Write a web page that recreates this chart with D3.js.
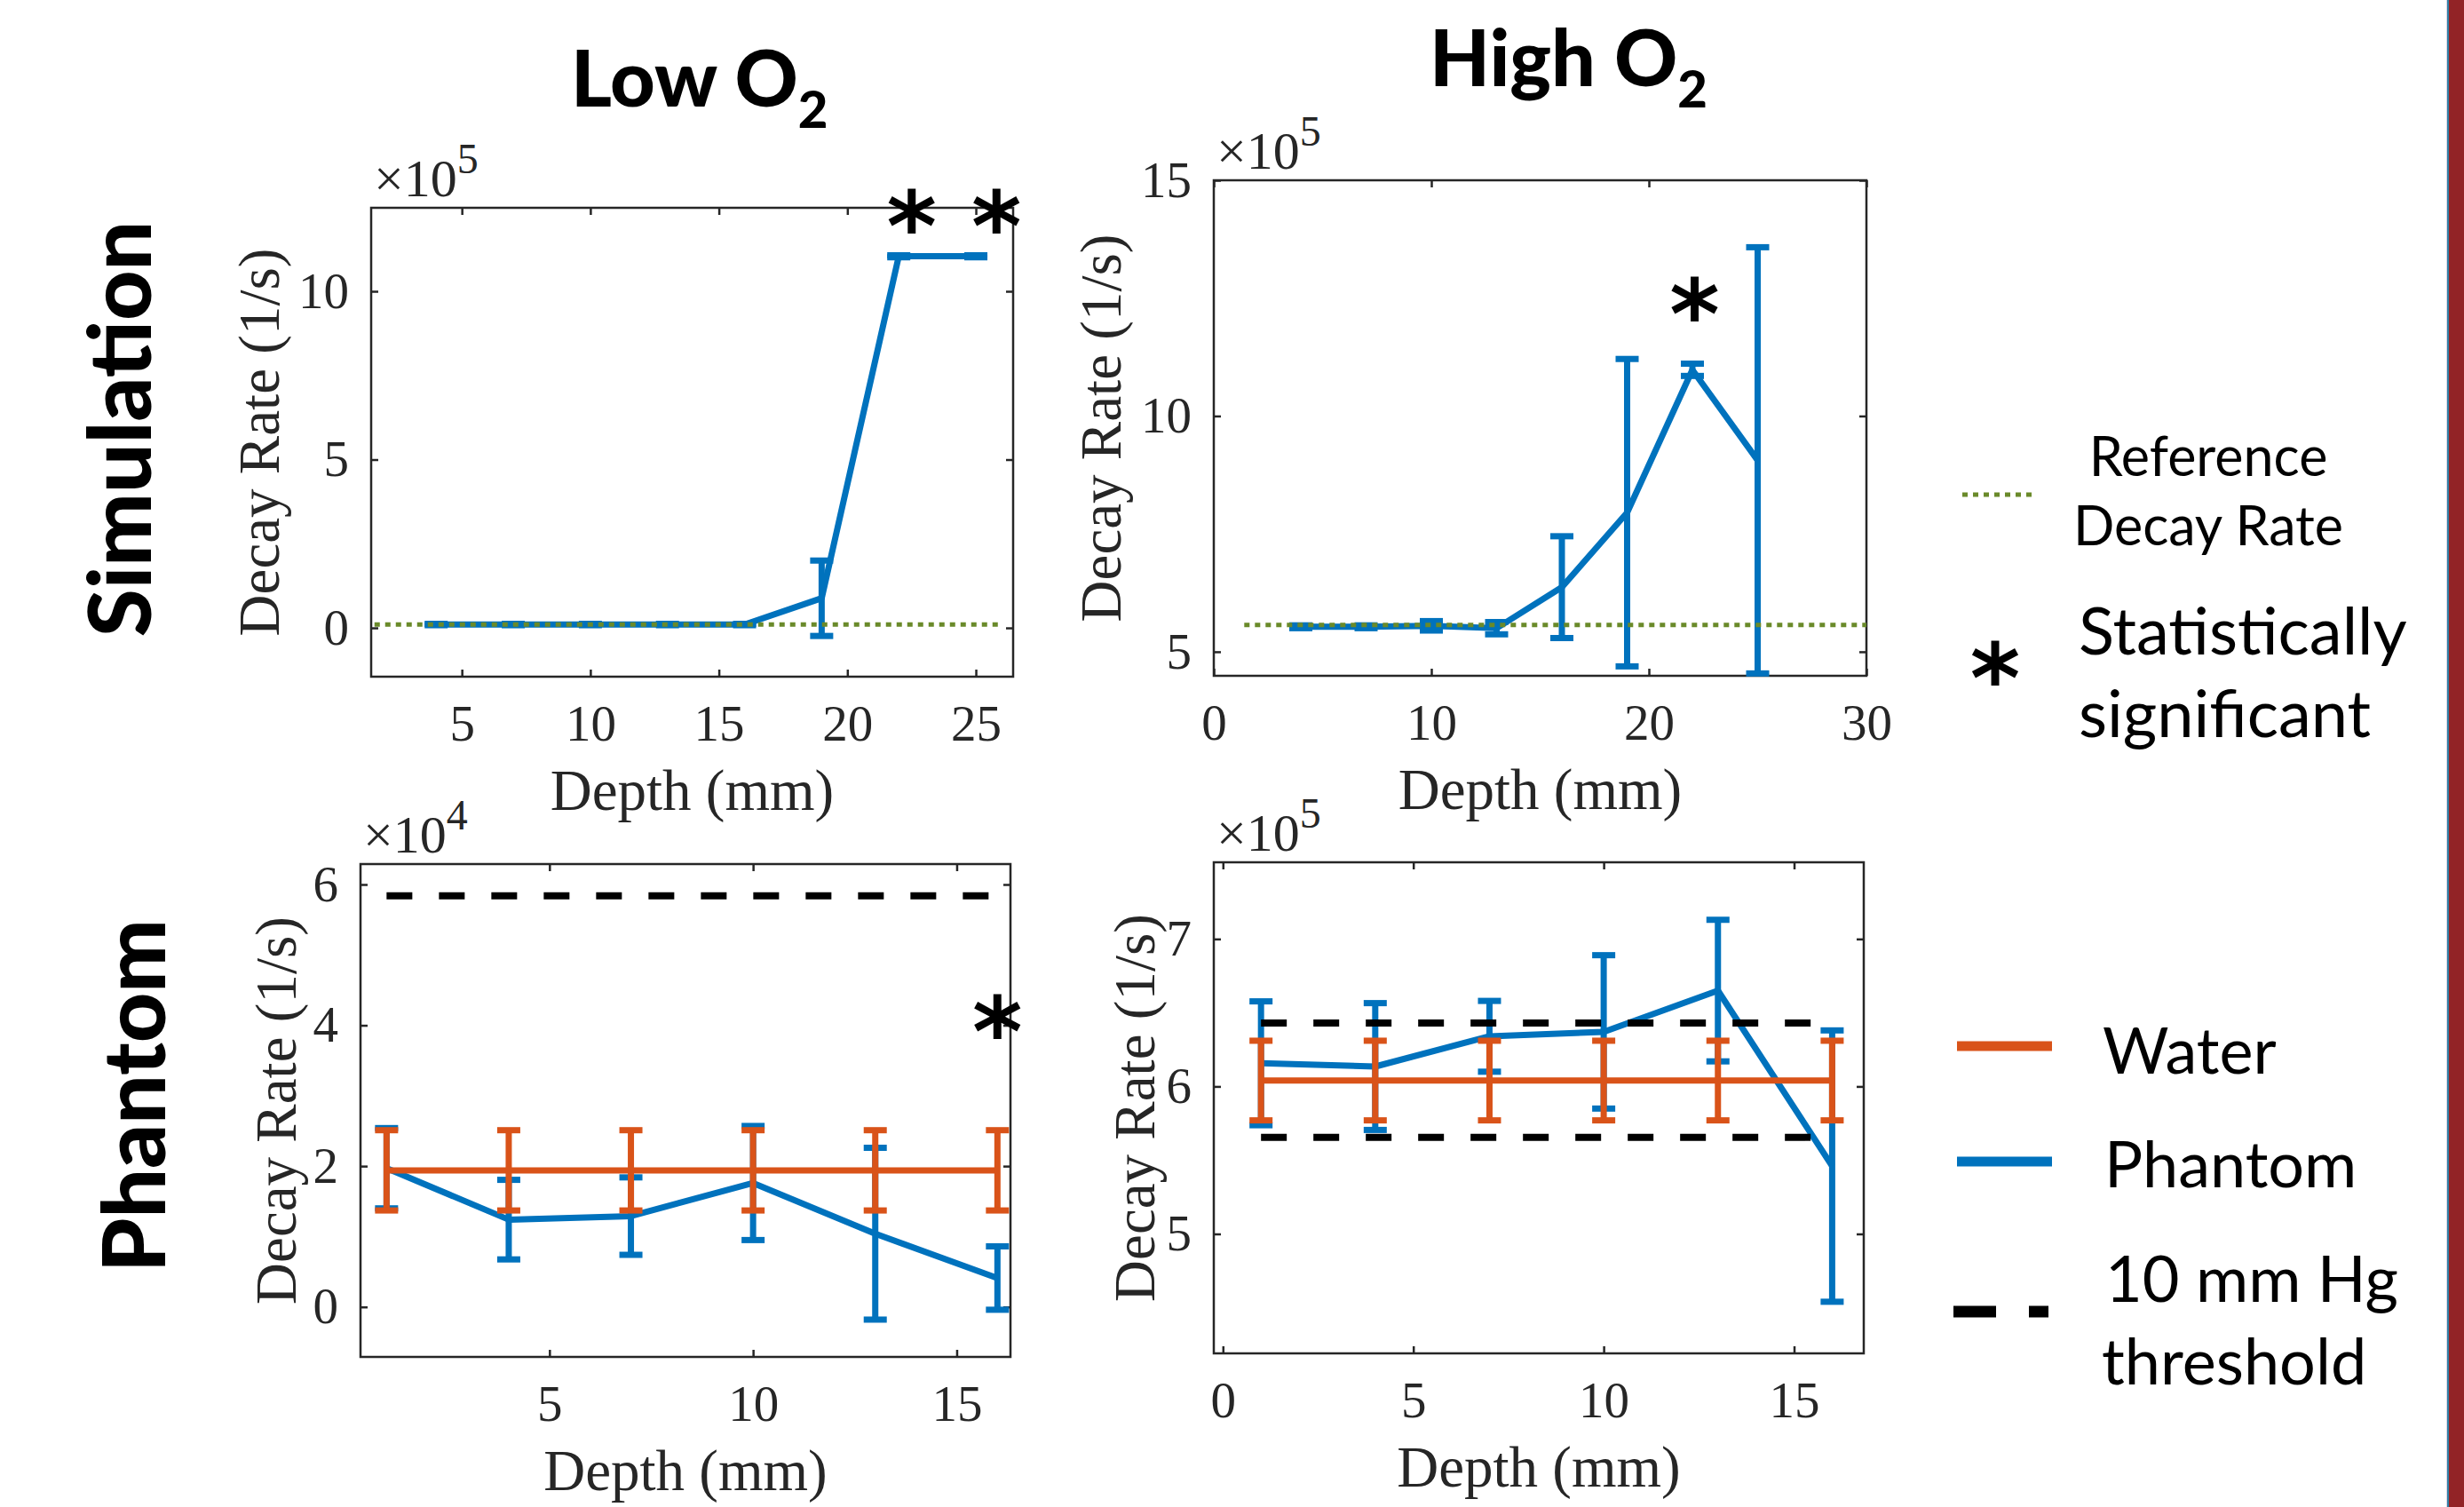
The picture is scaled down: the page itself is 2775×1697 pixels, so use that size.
<!DOCTYPE html>
<html>
<head>
<meta charset="utf-8">
<script src="https://cdn.jsdelivr.net/npm/d3@7"></script>
<style>
  body { margin: 0; background: #fff; }
  svg { display: block; }
</style>
</head>
<body>
<div id="app"></div>
<script>
"use strict";

// depths (mm)
const simDepth = [4, 7, 10, 13, 16, 19, 22, 25];
const phDepth = [1, 4, 7, 10, 13, 16];

// simulation, low O2  (x1e5 1/s)
const simLowRate = [0.1, 0.1, 0.1, 0.1, 0.1, 0.88, 11.04, 11.04];
const simLowErr = [0.02, 0.02, 0.02, 0.02, 0.02, 1.12, 0.03, 0.03];
const simLowRef = 0.1;
const simLowRefX = [1.6, 25.9];
const simLowSigX = [22.5, 25.8];
const simLowSigY = [12.4, 12.4];

// simulation, high O2  (x1e5 1/s)
const simHighRate = [5.53, 5.53, 5.55, 5.5, 6.37, 7.95, 10.98, 9.06];
const simHighErr = [0.03, 0.03, 0.1, 0.13, 1.08, 3.26, 0.13, 4.52];
const simHighRef = 5.57;
const simHighRefX = [1.4, 30];
const simHighSigX = [22.1];
const simHighSigY = [12.5];

// phantom, low O2  (x1e4 1/s)
const waterLowRate = [1.94, 1.94, 1.94, 1.94, 1.94, 1.94];
const waterLowErr = [0.57, 0.57, 0.57, 0.57, 0.57, 0.57];
const phantomLowRate = [1.97, 1.24, 1.29, 1.76, 1.04, 0.41];
const phantomLowErr = [0.57, 0.565, 0.55, 0.81, 1.22, 0.45];
const thresholdLow = [5.84];
const phLowSigX = [16];
const phLowSigY = [4.13];

// phantom, high O2  (x1e5 1/s)
const waterHighRate = [6.04, 6.04, 6.04, 6.04, 6.04, 6.04];
const waterHighErr = [0.27, 0.27, 0.27, 0.27, 0.27, 0.27];
const phantomHighRate = [6.157, 6.135, 6.34, 6.37, 6.65, 5.46];
const phantomHighErr = [0.42, 0.43, 0.24, 0.52, 0.48, 0.92];
const thresholdHigh = [6.43, 5.655];
const thresholdX = [1, 16];

// ticks
const simLowXTicks = [5, 10, 15, 20, 25];
const simLowYTicks = [0, 5, 10];
const simHighXTicks = [0, 10, 20, 30];
const simHighYTicks = [5, 10, 15];
const phLowXTicks = [5, 10, 15];
const phLowYTicks = [0, 2, 4, 6];
const phHighXTicks = [0, 5, 10, 15];
const phHighYTicks = [5, 6, 7];

const colTitles = ["Low O", "High O"];
const rowTitles = ["Simulation", "Phantom"];

const BLUE = "#0072BD";
const ORANGE = "#D95319";
const GREEN = "#6a8a2a";
const AXIS = "#262626";
const SERIF = "'Liberation Serif', 'Times New Roman', serif";
const SANS = "Lato, 'Open Sans', sans-serif";

class Figure {
  constructor() {
    this._width = 2775;
    this._height = 1697;
    this._svg = d3.select("#app")
      .append("svg")
      .attr("width", this._width)
      .attr("height", this._height);

    this._svg.append("rect")
      .attr("width", this._width)
      .attr("height", this._height)
      .attr("fill", "#fff");

    this._initTitles();
    this._initPanels();
    this._initLegend();
    this._initSideBar();
  }

  _initTitles() {
    const titles = [
      { x: 643, y: 120 },
      { x: 1610, y: 97 }
    ];
    titles.forEach((t, i) => {
      const txt = this._svg.append("text")
        .attr("x", t.x).attr("y", t.y)
        .attr("font-family", SANS)
        .attr("font-weight", 900)
        .attr("font-size", 88)
        .attr("fill", "#000")
        .text(colTitles[i]);
      txt.append("tspan")
        .attr("font-size", 58)
        .attr("dy", 24)
        .text("2");
    });

    const rows = [
      { x: 170, y: 483 },
      { x: 186, y: 1234 }
    ];
    rows.forEach((r, i) => {
      this._svg.append("text")
        .attr("transform", `translate(${r.x},${r.y}) rotate(-90)`)
        .attr("text-anchor", "middle")
        .attr("font-family", SANS)
        .attr("font-weight", 900)
        .attr("font-size", 98)
        .attr("fill", "#000")
        .text(rowTitles[i]);
    });
  }

  _initPanels() {
    const panels = [
      {
        box: [418, 234, 1141, 762], xDomain: [1.47, 26.45], yDomain: [-1.45, 12.48],
        xTicks: simLowXTicks, yTicks: simLowYTicks, exp: "5", yLabelX: 314,
        series: [{ x: simDepth, y: simLowRate, err: simLowErr, color: BLUE }],
        ref: { x: simLowRefX, y: [simLowRef] },
        sig: { x: simLowSigX, y: simLowSigY }
      },
      {
        box: [1367, 203, 2102, 761], xDomain: [0, 30], yDomain: [4.49, 15],
        xTicks: simHighXTicks, yTicks: simHighYTicks, exp: "5", yLabelX: 1262,
        series: [{ x: simDepth, y: simHighRate, err: simHighErr, color: BLUE }],
        ref: { x: simHighRefX, y: [simHighRef] },
        sig: { x: simHighSigX, y: simHighSigY }
      },
      {
        box: [406, 973, 1138, 1528], xDomain: [0.36, 16.32], yDomain: [-0.71, 6.29],
        xTicks: phLowXTicks, yTicks: phLowYTicks, exp: "4", yLabelX: 333,
        series: [
          { x: phDepth, y: phantomLowRate, err: phantomLowErr, color: BLUE },
          { x: phDepth, y: waterLowRate, err: waterLowErr, color: ORANGE }
        ],
        thr: { x: thresholdX, y: thresholdLow },
        sig: { x: phLowSigX, y: phLowSigY }
      },
      {
        box: [1367, 971, 2099, 1524], xDomain: [-0.24, 16.83], yDomain: [4.19, 7.52],
        xTicks: phHighXTicks, yTicks: phHighYTicks, exp: "5", yLabelX: 1300,
        series: [
          { x: phDepth, y: phantomHighRate, err: phantomHighErr, color: BLUE },
          { x: phDepth, y: waterHighRate, err: waterHighErr, color: ORANGE }
        ],
        thr: { x: thresholdX, y: thresholdHigh }
      }
    ];
    for (let p of panels) this._drawPanel(p);
  }

  _styleAxis(g, hideText) {
    g.select(".domain").remove();
    g.selectAll(".tick line").attr("stroke", AXIS).attr("stroke-width", 2.5);
    g.selectAll(".tick text")
      .attr("fill", AXIS)
      .attr("font-family", SERIF)
      .attr("font-size", 57);
    if (hideText) g.selectAll(".tick text").remove();
  }

  _drawPanel(p) {
    const [l, t, r, b] = p.box;
    const x = d3.scaleLinear().domain(p.xDomain).range([l, r]);
    const y = d3.scaleLinear().domain(p.yDomain).range([b, t]);
    const fmt = d3.format("d");
    const g = this._svg.append("g");

    const clip = "clip" + l + "_" + t;
    g.append("clipPath").attr("id", clip)
      .append("rect").attr("x", l).attr("y", t - 1)
      .attr("width", r - l).attr("height", b - t + 2);

    // axes, ticks inside on all four sides
    this._styleAxis(g.append("g").attr("transform", `translate(0,${b})`)
      .call(d3.axisBottom(x).tickValues(p.xTicks).tickFormat(fmt)
        .tickSizeInner(-8).tickSizeOuter(0).tickPadding(32)), false);
    this._styleAxis(g.append("g").attr("transform", `translate(0,${t})`)
      .call(d3.axisTop(x).tickValues(p.xTicks).tickSizeInner(-8).tickSizeOuter(0)), true);
    this._styleAxis(g.append("g").attr("transform", `translate(${l},0)`)
      .call(d3.axisLeft(y).tickValues(p.yTicks).tickFormat(fmt)
        .tickSizeInner(-8).tickSizeOuter(0).tickPadding(25)), false);
    this._styleAxis(g.append("g").attr("transform", `translate(${r},0)`)
      .call(d3.axisRight(y).tickValues(p.yTicks).tickSizeInner(-8).tickSizeOuter(0)), true);

    g.append("rect")
      .attr("x", l).attr("y", t)
      .attr("width", r - l).attr("height", b - t)
      .attr("fill", "none")
      .attr("stroke", AXIS)
      .attr("stroke-width", 2.5);

    // x10^n
    const ex = g.append("text")
      .attr("x", l + 3).attr("y", t - 13)
      .attr("font-family", SERIF)
      .attr("font-size", 60)
      .attr("fill", AXIS)
      .text("\u00d710");
    ex.append("tspan").attr("font-size", 48).attr("dy", -26).text(p.exp);

    g.append("text")
      .attr("x", (l + r) / 2).attr("y", b + 150)
      .attr("text-anchor", "middle")
      .attr("font-family", SERIF)
      .attr("font-size", 65)
      .attr("fill", AXIS)
      .text("Depth (mm)");

    g.append("text")
      .attr("transform", `translate(${p.yLabelX},${(t + b) / 2}) rotate(-90)`)
      .attr("text-anchor", "middle")
      .attr("font-family", SERIF)
      .attr("font-size", 65)
      .attr("fill", AXIS)
      .text("Decay Rate (1/s)");

    const plot = g.append("g").attr("clip-path", `url(#${clip})`);
    const line = d3.line().x(d => x(d[0])).y(d => y(d[1]));

    for (let s of p.series) {
      const pts = s.x.map((v, i) => [v, s.y[i], s.err[i]]);
      plot.append("path")
        .attr("d", line(pts))
        .attr("fill", "none")
        .attr("stroke", s.color)
        .attr("stroke-width", 7)
        .attr("stroke-linejoin", "round");
      const eb = plot.append("g")
        .attr("stroke", s.color)
        .attr("stroke-width", 7)
        .selectAll("g").data(pts).join("g");
      eb.append("line")
        .attr("x1", d => x(d[0])).attr("x2", d => x(d[0]))
        .attr("y1", d => y(d[1] - d[2])).attr("y2", d => y(d[1] + d[2]));
      eb.append("line")
        .attr("x1", d => x(d[0]) - 13).attr("x2", d => x(d[0]) + 13)
        .attr("y1", d => y(d[1] + d[2])).attr("y2", d => y(d[1] + d[2]));
      eb.append("line")
        .attr("x1", d => x(d[0]) - 13).attr("x2", d => x(d[0]) + 13)
        .attr("y1", d => y(d[1] - d[2])).attr("y2", d => y(d[1] - d[2]));
    }

    if (p.ref) {
      plot.selectAll(".ref").data(p.ref.y).join("line")
        .attr("x1", x(p.ref.x[0])).attr("x2", x(p.ref.x[1]))
        .attr("y1", d => y(d)).attr("y2", d => y(d))
        .attr("stroke", GREEN)
        .attr("stroke-width", 5)
        .attr("stroke-dasharray", "6,6");
    }

    if (p.thr) {
      plot.selectAll(".thr").data(p.thr.y).join("line")
        .attr("x1", x(p.thr.x[0])).attr("x2", x(p.thr.x[1]))
        .attr("y1", d => y(d)).attr("y2", d => y(d))
        .attr("stroke", "#000")
        .attr("stroke-width", 8)
        .attr("stroke-dasharray", "29,30");
    }

    if (p.sig) {
      g.selectAll(".sig").data(p.sig.x).join("text")
        .attr("x", d => x(d))
        .attr("y", (d, i) => y(p.sig.y[i]) + 56)
        .attr("text-anchor", "middle")
        .attr("font-family", "'DejaVu Sans', sans-serif")
        .attr("font-weight", "bold")
        .attr("font-size", 108)
        .attr("fill", "#000")
        .text("*");
    }
  }

  _initLegend() {
    const lg = this._svg.append("g");

    lg.append("line")
      .attr("x1", 2210).attr("x2", 2288).attr("y1", 557).attr("y2", 557)
      .attr("stroke", GREEN).attr("stroke-width", 5).attr("stroke-dasharray", "6,6");
    lg.append("text")
      .attr("x", 2487).attr("y", 536)
      .attr("text-anchor", "middle")
      .attr("font-family", SANS).attr("font-size", 61)
      .text("Reference");
    lg.append("text")
      .attr("x", 2487).attr("y", 614)
      .attr("text-anchor", "middle")
      .attr("font-family", SANS).attr("font-size", 61)
      .text("Decay Rate");

    lg.append("text")
      .attr("x", 2247).attr("y", 746 + 56)
      .attr("text-anchor", "middle")
      .attr("font-family", "'DejaVu Sans', sans-serif")
      .attr("font-weight", "bold")
      .attr("font-size", 108)
      .text("*");
    lg.append("text")
      .attr("x", 2341).attr("y", 737)
      .attr("font-family", SANS).attr("font-size", 74)
      .text("Statistically");
    lg.append("text")
      .attr("x", 2341).attr("y", 830)
      .attr("font-family", SANS).attr("font-size", 74)
      .text("significant");

    lg.append("line")
      .attr("x1", 2204).attr("x2", 2311).attr("y1", 1178).attr("y2", 1178)
      .attr("stroke", ORANGE).attr("stroke-width", 11);
    lg.append("text")
      .attr("x", 2368).attr("y", 1209)
      .attr("font-family", SANS).attr("font-size", 72)
      .text("Water");

    lg.append("line")
      .attr("x1", 2204).attr("x2", 2311).attr("y1", 1308).attr("y2", 1308)
      .attr("stroke", BLUE).attr("stroke-width", 11);
    lg.append("text")
      .attr("x", 2370).attr("y", 1337)
      .attr("font-family", SANS).attr("font-size", 72)
      .text("Phantom");

    lg.append("line")
      .attr("x1", 2200).attr("x2", 2307).attr("y1", 1477).attr("y2", 1477)
      .attr("stroke", "#000").attr("stroke-width", 13).attr("stroke-dasharray", "48,37,22");
    lg.append("text")
      .attr("x", 2371).attr("y", 1466)
      .attr("font-family", SANS).attr("font-size", 72)
      .text("10 mm Hg");
    lg.append("text")
      .attr("x", 2367).attr("y", 1559)
      .attr("font-family", SANS).attr("font-size", 72)
      .text("threshold");
  }

  _initSideBar() {
    this._svg.append("rect")
      .attr("x", 2755).attr("y", 0).attr("width", 1).attr("height", this._height)
      .attr("fill", "#ddd5e3");
    this._svg.append("rect")
      .attr("x", 2756).attr("y", 0).attr("width", 2).attr("height", this._height)
      .attr("fill", "#2f7fa6");
    this._svg.append("rect")
      .attr("x", 2758).attr("y", 0).attr("width", 17).attr("height", this._height)
      .attr("fill", "#922326");
  }
}

new Figure();
</script>
</body>
</html>
